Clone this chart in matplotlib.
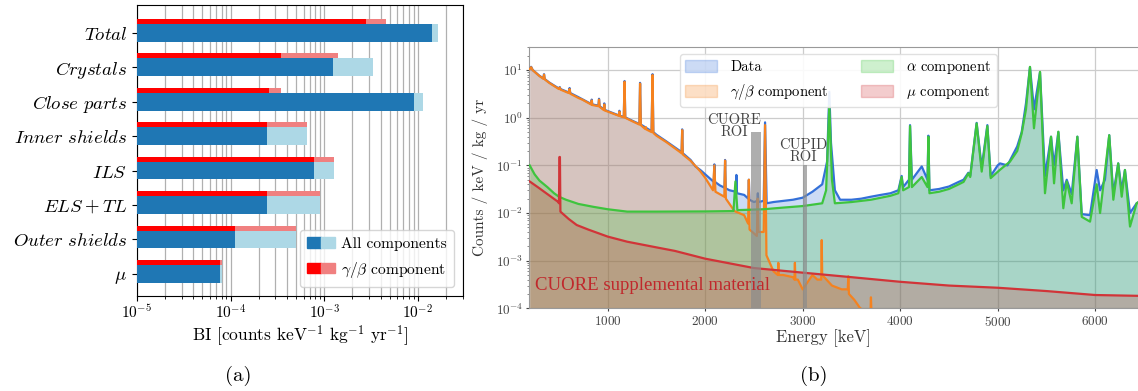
import matplotlib
matplotlib.use("Agg")
import matplotlib.pyplot as plt
import numpy as np
from matplotlib.patches import Patch
from matplotlib.legend_handler import HandlerTuple

plt.rcParams['mathtext.fontset'] = 'cm'
plt.rcParams['font.family'] = 'serif'
plt.rcParams['font.serif'] = ['cmr10', 'DejaVu Serif']
plt.rcParams['axes.formatter.use_mathtext'] = True
plt.rcParams['axes.unicode_minus'] = False

# ---------------- Panel (a) data ----------------
categories = ['Total', 'Crystals', 'Close parts', 'Inner shields', 'ILS', 'ELS+TL', 'Outer shields', r'\mu']
all_low = [1.41e-2, 1.25e-3, 9.06e-3, 2.42e-4, 7.83e-4, 2.42e-4, 1.10e-4, 7.64e-5]
all_high = [1.62e-2, 3.32e-3, 1.13e-2, 6.60e-4, 1.28e-3, 9.06e-4, 5.04e-4, 8.15e-5]
gb_low = [2.80e-3, 3.49e-4, 2.54e-4, 2.42e-4, 7.83e-4, 2.42e-4, 1.10e-4, 7.64e-5]
gb_high = [4.60e-3, 1.41e-3, 3.49e-4, 6.60e-4, 1.28e-3, 9.06e-4, 5.04e-4, 8.15e-5]

# ---------------- Panel (b) data ----------------
gb_E = [200, 215, 230, 300, 340, 347, 354, 400, 500, 508, 516, 600, 609, 616, 700, 740, 800, 830, 836, 842,
        905, 911, 917, 960, 965, 970, 1000, 1114, 1120, 1126, 1165, 1173, 1180, 1250, 1325, 1332, 1340,
        1385, 1390, 1395, 1450, 1460, 1468, 1500, 1600, 1700, 1758, 1764, 1770, 1850, 1950, 2000, 2080,
        2094, 2105, 2196, 2204, 2212, 2300, 2400, 2440, 2448, 2455, 2530, 2538, 2546, 2600, 2614, 2628,
        2700, 2745, 2750, 2755, 2800, 2900, 2915, 2920, 2925, 2950, 3000, 3100, 3150, 3190, 3195, 3200,
        3300, 3400, 3462, 3468, 3474, 3530, 3590, 3695, 3700, 3705, 3720]
gb_V = [10.5, 11.5, 10.0, 7.5, 6.6, 8.0, 6.4, 5.4, 4.0, 4.3, 3.9, 3.3, 4.0, 3.2, 2.6, 2.4, 2.05, 1.9, 2.3, 1.85,
        1.75, 2.4, 1.7, 1.45, 1.9, 1.42, 1.35, 1.1, 1.34, 1.08, 1.02, 5.7, 1.0, 0.85, 0.72, 5.2, 0.7,
        0.58, 0.64, 0.57, 0.5, 7.9, 0.48, 0.42, 0.31, 0.22, 0.18, 0.55, 0.17, 0.125, 0.075, 0.055, 0.03,
        0.1, 0.028, 0.022, 0.126, 0.02, 0.011, 0.009, 0.006, 0.05, 0.0045, 0.0033, 0.02, 0.004, 0.004, 0.7, 0.0013,
        0.0006, 0.0005, 0.0009, 0.0005, 0.0005, 0.00045, 0.0004, 0.0009, 0.0004, 0.0004, 0.00025, 0.0005, 0.0004, 0.0004, 0.0027, 0.0005,
        0.0003, 0.00025, 0.00025, 0.00047, 0.0002, 0.00015, 0.0001, 0.00008, 0.00017, 0.00008, 0.00005]

data_E = [200, 215, 230, 300, 340, 347, 354, 400, 500, 508, 516, 600, 609, 616, 700, 800, 830, 836, 842,
          905, 911, 917, 960, 965, 970, 1000, 1114, 1120, 1126, 1165, 1173, 1180, 1250, 1325, 1332, 1340,
          1450, 1460, 1468, 1500, 1600, 1700, 1758, 1764, 1770, 1850, 1900, 1950, 2000, 2088, 2094, 2100,
          2150, 2198, 2204, 2210, 2250, 2314, 2320, 2326, 2400, 2442, 2448, 2454, 2500, 2535, 2540, 2545,
          2600, 2614, 2630, 2700, 2800, 2900, 3000, 3100, 3200, 3250, 3273, 3290, 3330, 3384, 3500, 3600,
          3700, 3800, 3900, 3981, 4015, 4030, 4090, 4101, 4120, 4221, 4280, 4289, 4300, 4400, 4500, 4600,
          4650, 4699, 4718, 4784, 4836, 4894, 4928, 5000, 5024, 5100, 5200, 5246, 5290, 5331, 5372, 5434,
          5485, 5547, 5578, 5622, 5673, 5708, 5759, 5817, 5862, 5947, 6015, 6050, 6100, 6144, 6186, 6236,
          6272, 6305, 6357, 6425, 6500, 6600]
data_V = [10.6, 11.7, 10.1, 7.6, 6.7, 8.2, 6.5, 5.5, 4.1, 4.4, 4.0, 3.4, 4.2, 3.3, 2.7, 2.1, 1.95, 2.4, 1.9,
          1.8, 2.5, 1.75, 1.5, 2.0, 1.46, 1.38, 1.12, 1.4, 1.1, 1.04, 5.9, 1.02, 0.87, 0.74, 5.4, 0.72,
          0.52, 8.2, 0.5, 0.44, 0.32, 0.23, 0.19, 0.57, 0.18, 0.13, 0.095, 0.08, 0.065, 0.045, 0.105, 0.045,
          0.038, 0.034, 0.13, 0.033, 0.03, 0.028, 0.063, 0.026, 0.024, 0.02, 0.05, 0.019, 0.017, 0.018, 0.026, 0.017,
          0.018, 0.8, 0.016, 0.017, 0.018, 0.019, 0.021, 0.028, 0.04, 0.12, 3.5, 0.3, 0.03, 0.019, 0.019, 0.02,
          0.022, 0.024, 0.026, 0.03, 0.06, 0.035, 0.05, 0.7, 0.05, 0.095, 0.05, 0.42, 0.03, 0.032, 0.036, 0.045,
          0.05, 0.07, 0.06, 0.78, 0.09, 0.7, 0.06, 0.1, 0.11, 0.1, 0.25, 0.5, 2.0, 11.5, 1.5, 9.0,
          0.06, 0.4, 0.1, 0.5, 0.03, 0.05, 0.025, 0.4, 0.0095, 0.009, 0.08, 0.03, 0.05, 0.43, 0.025, 0.11,
          0.03, 0.08, 0.01, 0.016, 0.02, 0.02]

alpha_E = [200, 250, 300, 381, 450, 500, 572, 700, 852, 1000, 1200, 1500, 2000, 2290, 2310, 2330, 2500,
           2600, 2800, 3000, 3200, 3240, 3273, 3300, 3330, 3500, 3700, 3900, 3981, 4015, 4030, 4090, 4101,
           4120, 4221, 4280, 4289, 4300, 4400, 4500, 4600, 4650, 4699, 4718, 4784, 4836, 4894, 4928, 5024,
           5126, 5200, 5246, 5290, 5331, 5372, 5434, 5485, 5547, 5578, 5622, 5673, 5708, 5759, 5817, 5862,
           5947, 6015, 6050, 6144, 6186, 6236, 6272, 6305, 6357, 6425, 6500, 6600]
alpha_V = [0.1, 0.065, 0.048, 0.035, 0.026, 0.022, 0.019, 0.0155, 0.0135, 0.012, 0.0107, 0.0107, 0.0108,
           0.011, 0.046, 0.0115, 0.0118, 0.012, 0.013, 0.014, 0.016, 0.03, 1.76, 0.05, 0.016, 0.017, 0.019,
           0.023, 0.026, 0.057, 0.03, 0.035, 0.67, 0.035, 0.057, 0.035, 0.4, 0.026, 0.028, 0.032, 0.04, 0.045,
           0.068, 0.057, 0.76, 0.074, 0.67, 0.054, 0.081, 0.12, 0.2, 0.47, 1.5, 11.7, 0.6, 9.2, 0.026, 0.4,
           0.042, 0.51, 0.0126, 0.046, 0.016, 0.4, 0.0083, 0.0066, 0.04, 0.01, 0.43, 0.019, 0.11, 0.022, 0.08,
           0.0052, 0.016, 0.02, 0.02]

mu_E = [200, 300, 381, 494, 500, 505, 510, 515, 600, 682, 800, 1000, 1200, 1500, 1690, 2000, 2500, 3000,
        3500, 4000, 4500, 5000, 5500, 6000, 6600]
mu_V = [0.046, 0.033, 0.025, 0.017, 0.016, 0.15, 0.15, 0.0107, 0.0075, 0.0056, 0.0045, 0.0032, 0.0025,
        0.0019, 0.0016, 0.0011, 0.0007, 0.00056, 0.00045, 0.00036, 0.0003, 0.00027, 0.00023, 0.00019, 0.00018]

cuore_roi = [2467, 2572, 0.51]
cupid_roi = [3005, 3045, 0.1]

# ---------------- Figure ----------------
W, H = 1138, 391
fig = plt.figure(figsize=(W / 100, H / 100), dpi=100)

def fx(px):
    return px / W

def fy(py):
    return 1 - py / H

# Panel (a)
axa = fig.add_axes([fx(137), fy(296), fx(463) - fx(137), fy(5) - fy(296)])
n = len(categories)
ypos = np.arange(n)[::-1]
c_dark, c_light = '#1f77b4', '#add8e6'
r_dark, r_light = '#ff0000', '#f08080'
bh = 0.514
rh = 0.145
base = 1e-6
axa.barh(ypos, np.array(all_high) - base, left=base, height=bh, color=c_light, zorder=2)
axa.barh(ypos, np.array(all_low) - base, left=base, height=bh, color=c_dark, zorder=3)
axa.barh(ypos + bh / 2 + rh / 2, np.array(gb_high) - base, left=base, height=rh, color=r_light, zorder=2)
axa.barh(ypos + bh / 2 + rh / 2, np.array(gb_low) - base, left=base, height=rh, color=r_dark, zorder=3)
axa.set_xscale('log')
axa.set_xlim(1e-5, 3.03e-2)
axa.set_ylim(-0.645, n - 1 + 0.81)
axa.set_yticks(ypos)
axa.set_yticklabels(['$' + c.replace(' ', r'\ ') + '$' for c in categories], fontsize=13.5)
axa.tick_params(axis='x', labelsize=11, pad=2)
axa.grid(True, axis='x', which='both', color='#b0b0b0', lw=0.9, zorder=0)
axa.set_axisbelow(True)
axa.set_xlabel(r'BI [counts keV$^{-1}$ kg$^{-1}$ yr$^{-1}$]', fontsize=12.5, labelpad=1)
h1 = (Patch(color=c_dark), Patch(color=c_light))
h2 = (Patch(color=r_dark), Patch(color=r_light))
axa.legend([h1, h2], ['All components', r'$\gamma/\beta$ component'],
           handler_map={tuple: HandlerTuple(ndivide=None, pad=0)},
           loc='lower right', fontsize=11.2, handlelength=1.8, handleheight=0.65, handletextpad=0.4,
           borderpad=0.45, labelspacing=0.55, borderaxespad=0,
           bbox_to_anchor=((454 - 137) / 326, (296 - 286.7) / 291))
fig.text(fx(238), fy(376), '(a)', fontsize=15, ha='center', va='center')

# Panel (b)
E_at = lambda px: 1000 + (px - 607.7) / 0.0975
axb = fig.add_axes([fx(529.3), fy(308.3), fx(1150) - fx(529.3), fy(46.7) - fy(308.3)])
axb.set_yscale('log')
axb.set_xlim(E_at(529.3), E_at(1150))
axb.set_ylim(1e-4, 31)
floor = 1e-6
col_data, col_gb, col_al, col_mu = '#3470d8', '#f5821f', '#3ec43e', '#d13438'
fa = 0.25
axb.fill_between(data_E, data_V, floor, color=col_data, alpha=fa, lw=0, zorder=1)
axb.fill_between(gb_E, gb_V, floor, color=col_gb, alpha=fa, lw=0, zorder=1)
axb.fill_between(alpha_E, alpha_V, floor, color=col_al, alpha=fa, lw=0, zorder=1)
axb.fill_between(mu_E, mu_V, floor, color=col_mu, alpha=fa, lw=0, zorder=1)
axb.plot(data_E, data_V, color=col_data, lw=1.6, zorder=3)
axb.plot(gb_E, gb_V, color=col_gb, lw=1.6, zorder=4)
axb.plot(alpha_E, alpha_V, color=col_al, lw=1.6, zorder=4)
axb.plot(mu_E, mu_V, color=col_mu, lw=1.6, zorder=5)
for roi in (cuore_roi, cupid_roi):
    axb.fill_between([roi[0], roi[1]], [roi[2], roi[2]], 1e-4, color='#8c8c8c', alpha=0.7, lw=0, zorder=6)
axb.grid(True, which='major', color='#cccccc', lw=0.9, zorder=0)
axb.set_axisbelow(True)
for s in axb.spines.values():
    s.set_color('#999999')
axb.set_xticks([1000, 2000, 3000, 4000, 5000, 6000])
axb.tick_params(axis='both', labelsize=9.5, colors='#444444', length=2.5, pad=2)
axb.tick_params(axis='y', which='minor', length=1.5, colors='#777777')
axb.set_ylabel('Counts / keV / kg / yr', fontsize=11, color='#333333')
axb.yaxis.set_label_coords(-(529.3 - 488) / (1150 - 529.3), 0.5)
fig.text(fx(823), fy(338), 'Energy [keV]', fontsize=12, color='#333333', ha='center', va='center')
axb.text(E_at(734), 10 ** (1 - (126 - 70) / 47.7), 'CUORE\nROI', fontsize=10.5, color='#444444',
         ha='center', va='center', linespacing=0.85, zorder=7)
axb.text(E_at(803), 10 ** (1 - (151 - 70) / 47.7), 'CUPID\nROI', fontsize=10.5, color='#444444',
         ha='center', va='center', linespacing=0.85, zorder=7)
axb.text(E_at(535), 10 ** (1 - (286 - 70) / 47.7), 'CUORE supplemental material', fontsize=13.5,
         family='Liberation Serif', color='#c0282c', ha='left', va='center', zorder=8)
leg_h = [Patch(color=col_data, alpha=fa), Patch(color=col_gb, alpha=fa),
         Patch(color=col_al, alpha=fa), Patch(color=col_mu, alpha=fa)]
leg_l = ['Data', r'$\gamma/\beta$ component', r'$\alpha$ component', r'$\mu$ component']
fig.legend(leg_h, leg_l, ncol=2, loc='upper left', bbox_to_anchor=(fx(680), fy(54)),
           fontsize=10.5, handlelength=2.2, handleheight=0.8, columnspacing=2.2,
           labelspacing=0.55, borderpad=0.35, handletextpad=0.9, framealpha=0.9,
           edgecolor='#dddddd', borderaxespad=0)
fig.text(fx(814), fy(376), '(b)', fontsize=15, ha='center', va='center')

fig.savefig('out.png', dpi=100)
